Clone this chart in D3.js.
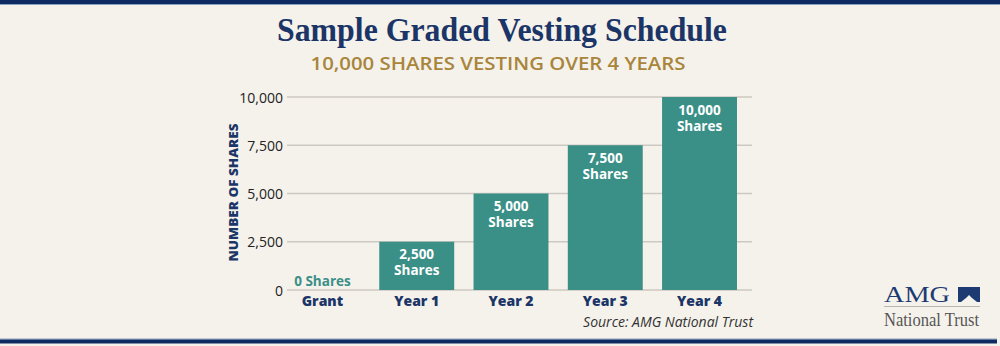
<!DOCTYPE html>
<html>
<head>
<meta charset="utf-8">
<script src="https://cdn.jsdelivr.net/npm/d3@7"></script>
<style>
  html, body { margin: 0; padding: 0; background: #f5f2ec; }
  svg { display: block; }
</style>
</head>
<body>
<div id="chart"></div>
<script>
// vesting schedule data
const CATEGORIES = ["Grant", "Year 1", "Year 2", "Year 3", "Year 4"];
const SHARES = [0, 2500, 5000, 7500, 10000];
const Y_TICKS = [0, 2500, 5000, 7500, 10000];

const W = 1000, H = 346;
const navy = "#1c3567";
const teal = "#3a8f87";
const gold = "#a8853a";

const svg = d3.select("#chart").append("svg")
  .attr("width", W)
  .attr("height", H);

svg.append("rect").attr("width", W).attr("height", H).attr("fill", "#f5f2ec");

// top and bottom rules
svg.append("rect").attr("x", 0).attr("y", 0).attr("width", W).attr("height", 4).attr("fill", "#0d2a63");
svg.append("rect").attr("x", 0).attr("y", 4).attr("width", W).attr("height", 1).attr("fill", "#8aa0c4");
svg.append("rect").attr("x", 0).attr("y", 338.5).attr("width", 997).attr("height", 1).attr("fill", "#8aa0c4");
svg.append("rect").attr("x", 0).attr("y", 339.5).attr("width", 997).attr("height", 4).attr("fill", "#0d2a63");

// titles
svg.append("text")
  .attr("x", 502).attr("y", 41)
  .attr("text-anchor", "middle")
  .attr("font-family", "'Liberation Serif', serif")
  .attr("font-weight", 700)
  .attr("font-size", 33)
  .attr("textLength", 450)
  .attr("lengthAdjust", "spacingAndGlyphs")
  .attr("fill", navy)
  .text("Sample Graded Vesting Schedule");

svg.append("text")
  .attr("x", 498).attr("y", 69.5)
  .attr("text-anchor", "middle")
  .attr("font-family", "'Open Sans', sans-serif")
  .attr("font-weight", 600)
  .attr("font-size", 17.5)
  .attr("textLength", 375)
  .attr("lengthAdjust", "spacingAndGlyphs")
  .attr("fill", gold)
  .text("10,000 SHARES VESTING OVER 4 YEARS");

////////////////////////////////////////////////////////////
///////////////////////// Scales ///////////////////////////
////////////////////////////////////////////////////////////

const x = d3.scaleBand()
  .domain(CATEGORIES)
  .range([285, 737])
  .paddingInner(0.205)
  .paddingOuter(0);

const y = d3.scaleLinear()
  .domain([0, 10000])
  .range([290, 97]);

const gridX0 = 287, gridX1 = 752;

// gridlines
svg.append("g")
  .selectAll("line")
  .data(Y_TICKS)
  .join("line")
  .attr("x1", gridX0).attr("x2", gridX1)
  .attr("y1", d => y(d)).attr("y2", d => y(d))
  .attr("stroke", "#cdc8c1")
  .attr("stroke-width", 1.3);

// y axis labels
const yAxis = svg.append("g")
  .attr("transform", `translate(${gridX0 - 4},0)`)
  .call(d3.axisLeft(y).tickValues(Y_TICKS).tickFormat(d3.format(",")).tickSize(0).tickPadding(0));
yAxis.select(".domain").remove();
yAxis.selectAll("text")
  .attr("font-family", "'Open Sans', sans-serif")
  .attr("font-size", 14)
  .attr("fill", "#222")
  .attr("dy", "0.36em");

svg.append("text")
  .attr("transform", `translate(237.5,${y(5000) - 1}) rotate(-90)`)
  .attr("text-anchor", "middle")
  .attr("font-family", "'Open Sans', sans-serif")
  .attr("font-weight", 800)
  .attr("font-size", 12.5)
  .attr("textLength", 138)
  .attr("lengthAdjust", "spacingAndGlyphs")
  .attr("fill", navy)
  .text("NUMBER OF SHARES");

////////////////////////////////////////////////////////////
////////////////////////// Bars ////////////////////////////
////////////////////////////////////////////////////////////

const data = CATEGORIES.map((c, i) => ({ cat: c, value: SHARES[i] }));

svg.append("g")
  .selectAll("rect")
  .data(data)
  .join("rect")
  .attr("x", d => x(d.cat))
  .attr("width", x.bandwidth())
  .attr("y", d => y(d.value))
  .attr("height", d => y(0) - y(d.value))
  .attr("fill", teal);

// value labels: number and "Shares" as two lines inside the bar
const labelG = svg.append("g")
  .attr("font-family", "'Open Sans', sans-serif")
  .attr("font-weight", 700)
  .attr("font-size", 13.5)
  .attr("text-anchor", "middle");

data.forEach(d => {
  const cx = x(d.cat) + x.bandwidth() / 2;
  if (d.value === 0) {
    labelG.append("text")
      .attr("x", cx).attr("y", y(0) - 4.5)
      .attr("fill", teal)
      .text(`${d3.format(",")(d.value)} Shares`);
  } else {
    const top = y(d.value);
    labelG.append("text")
      .attr("x", cx).attr("y", top + 17.5)
      .attr("fill", "#fff")
      .text(d3.format(",")(d.value));
    labelG.append("text")
      .attr("x", cx).attr("y", top + 33.5)
      .attr("fill", "#fff")
      .text("Shares");
  }
});

// category labels
svg.append("g")
  .selectAll("text")
  .data(CATEGORIES)
  .join("text")
  .attr("x", d => x(d) + x.bandwidth() / 2)
  .attr("y", 306)
  .attr("text-anchor", "middle")
  .attr("font-family", "'Open Sans', sans-serif")
  .attr("font-weight", 800)
  .attr("font-size", 14)
  .attr("fill", navy)
  .text(d => d);

// source note
svg.append("text")
  .attr("x", 753).attr("y", 327)
  .attr("text-anchor", "end")
  .attr("font-family", "'Open Sans', sans-serif")
  .attr("font-style", "italic")
  .attr("font-size", 14)
  .attr("fill", "#333")
  .text("Source: AMG National Trust");

////////////////////////////////////////////////////////////
////////////////////////// Logo ////////////////////////////
////////////////////////////////////////////////////////////

const logo = svg.append("g");
logo.append("text")
  .attr("x", 884).attr("y", 302)
  .attr("font-family", "'Liberation Serif', serif")
  .attr("font-size", 23)
  .attr("textLength", 66)
  .attr("lengthAdjust", "spacingAndGlyphs")
  .attr("fill", "#1d3a72")
  .text("AMG");
logo.append("rect")
  .attr("x", 958).attr("y", 287).attr("width", 22).attr("height", 15)
  .attr("fill", "#1d3a72");
logo.append("path")
  .attr("d", "M961,302 L966,298 L969,295 L972,298 L977,302 Z")
  .attr("fill", "#f5f2ec");
logo.append("line")
  .attr("x1", 884).attr("x2", 980)
  .attr("y1", 306.5).attr("y2", 306.5)
  .attr("stroke", "#b9b5b0").attr("stroke-width", 1);
logo.append("text")
  .attr("x", 884).attr("y", 326)
  .attr("font-family", "'Liberation Serif', serif")
  .attr("font-size", 18.5)
  .attr("textLength", 95)
  .attr("lengthAdjust", "spacingAndGlyphs")
  .attr("fill", "#555")
  .text("National Trust");
</script>
</body>
</html>
